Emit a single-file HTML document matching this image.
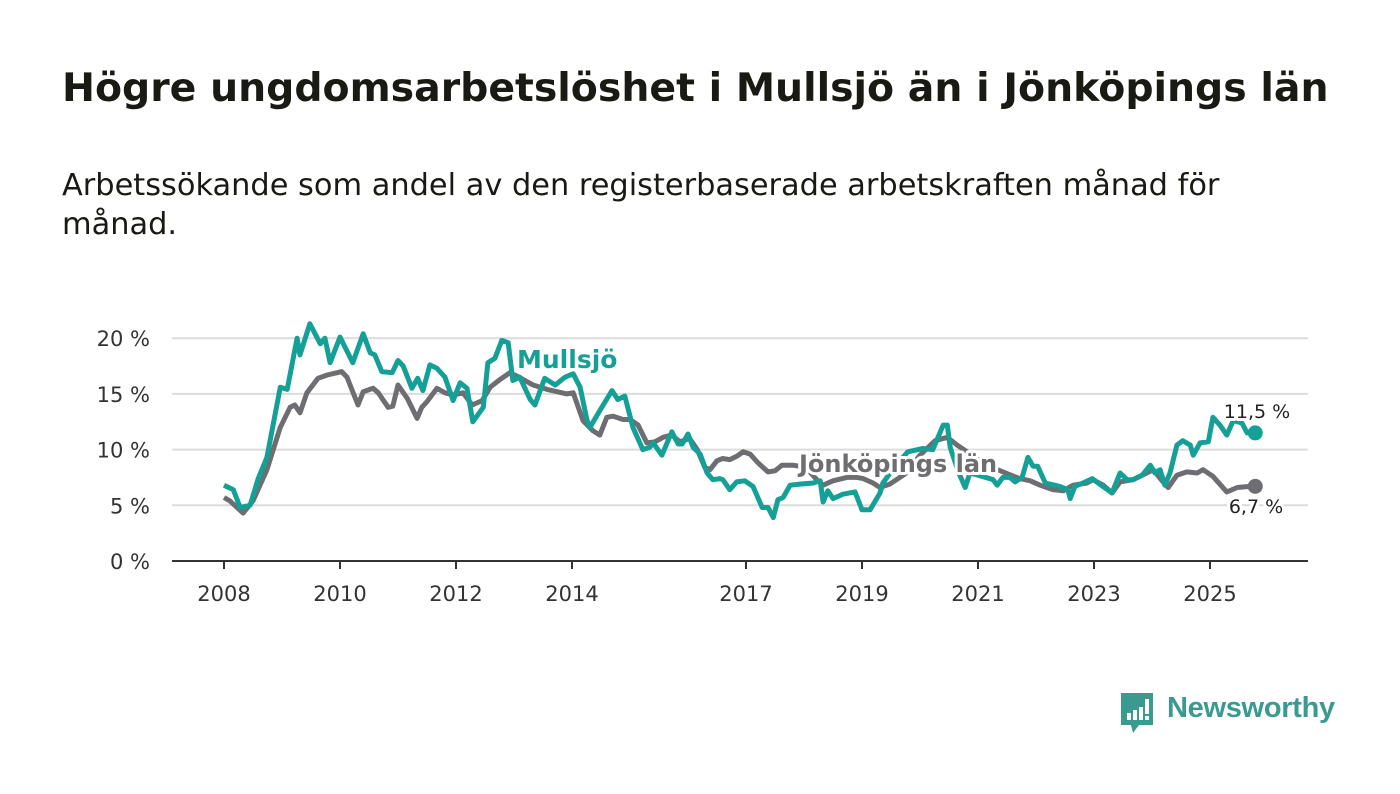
<!DOCTYPE html>
<html><head><meta charset="utf-8">
<style>
html,body{margin:0;padding:0;background:#fff;}
body{width:1400px;height:794px;position:relative;overflow:hidden;font-family:"DejaVu Sans","Liberation Sans",sans-serif;color:#1a1a14;}
#title{position:absolute;left:62px;top:65px;font-size:39.4px;font-weight:bold;margin:0;letter-spacing:0px;white-space:nowrap;}
#subtitle{position:absolute;left:62px;top:166px;font-size:30.4px;line-height:39px;margin:0;width:1240px;}
svg{position:absolute;left:0;top:0;}
</style></head>
<body>
<h1 id="title">Högre ungdomsarbetslöshet i Mullsjö än i Jönköpings län</h1>
<p id="subtitle">Arbetssökande som andel av den registerbaserade arbetskraften månad för månad.</p>
<svg id="chart" width="1400" height="794"></svg>
<div style="position:absolute;left:1119px;top:691px;width:220px;height:44px;">
<svg width="36" height="44" style="position:absolute;left:0;top:0">
<path d="M2 2 H34 V34 H20 L14 42 L12 34 H2 Z" fill="#3a9a90"/>
<rect x="8" y="22" width="4" height="7" fill="#fff"/><rect x="14" y="19" width="4" height="10" fill="#fff"/><rect x="20" y="16" width="4" height="13" fill="#fff"/><rect x="26" y="8" width="4" height="15" fill="#fff"/><rect x="26" y="25" width="4" height="4" fill="#fff"/>
</svg>
<span style="position:absolute;left:48px;top:1px;font-family:'Liberation Sans',sans-serif;font-size:29px;font-weight:bold;color:#3a9a90;letter-spacing:-0.3px;">Newsworthy</span>
</div>
<script>
const yTicks=[0,5,10,15,20];
const xTickYears=[2008,2010,2012,2014,2017,2019,2021,2023,2025];
const mullsjoYears=[2008.0,2008.16,2008.28,2008.45,2008.59,2008.74,2008.97,2009.09,2009.26,2009.31,2009.48,2009.66,2009.74,2009.83,2010.0,2010.22,2010.40,2010.52,2010.60,2010.72,2010.90,2011.0,2011.09,2011.24,2011.34,2011.43,2011.55,2011.67,2011.81,2011.95,2012.07,2012.19,2012.29,2012.47,2012.55,2012.67,2012.79,2012.90,2012.98,2013.10,2013.28,2013.36,2013.53,2013.71,2013.88,2014.02,2014.14,2014.26,2014.31,2014.48,2014.69,2014.79,2014.91,2015.05,2015.22,2015.34,2015.40,2015.55,2015.72,2015.83,2015.90,2016.0,2016.09,2016.21,2016.33,2016.43,2016.55,2016.60,2016.72,2016.84,2016.98,2017.12,2017.28,2017.38,2017.47,2017.55,2017.64,2017.76,2017.93,2018.16,2018.28,2018.33,2018.41,2018.50,2018.67,2018.88,2019.0,2019.14,2019.31,2019.36,2019.57,2019.79,2020.05,2020.22,2020.40,2020.47,2020.52,2020.66,2020.78,2020.86,2021.07,2021.26,2021.33,2021.43,2021.55,2021.64,2021.76,2021.86,2021.95,2022.03,2022.16,2022.41,2022.55,2022.59,2022.67,2022.81,2022.97,2023.07,2023.31,2023.45,2023.57,2023.67,2023.83,2023.97,2024.05,2024.14,2024.22,2024.31,2024.43,2024.53,2024.66,2024.71,2024.83,2024.97,2025.05,2025.17,2025.29,2025.40,2025.55,2025.64,2025.78];
const mullsjoValues=[6.8,6.4,4.8,5.0,7.4,9.3,15.6,15.4,20.0,18.5,21.3,19.5,20.0,17.8,20.1,17.8,20.4,18.7,18.5,17.0,16.9,18.0,17.5,15.5,16.4,15.3,17.6,17.3,16.5,14.4,16.0,15.5,12.5,13.8,17.8,18.2,19.8,19.6,16.2,16.5,14.5,14.0,16.4,15.8,16.5,16.8,15.6,12.6,12.0,13.5,15.3,14.5,14.8,12.0,10.0,10.2,10.6,9.5,11.6,10.5,10.5,11.4,10.2,9.6,7.9,7.3,7.4,7.3,6.4,7.1,7.2,6.7,4.8,4.8,3.9,5.5,5.7,6.8,6.9,7.0,7.2,5.3,6.3,5.6,6.0,6.2,4.6,4.6,6.1,7.0,8.5,9.8,10.1,10.0,12.2,12.2,10.2,8.0,6.6,7.9,7.6,7.3,6.8,7.5,7.5,7.1,7.5,9.3,8.5,8.5,7.0,6.7,6.4,5.6,6.7,7.0,7.4,7.0,6.1,7.9,7.3,7.3,7.7,8.6,7.9,8.2,6.8,7.9,10.4,10.8,10.4,9.5,10.6,10.7,12.9,12.2,11.3,12.6,12.4,11.5,11.5];
const lanYears=[2008.0,2008.10,2008.33,2008.50,2008.74,2008.97,2009.14,2009.22,2009.31,2009.43,2009.62,2009.78,2009.95,2010.03,2010.12,2010.31,2010.40,2010.57,2010.66,2010.83,2010.91,2011.0,2011.16,2011.33,2011.41,2011.50,2011.67,2011.81,2011.95,2012.12,2012.28,2012.45,2012.59,2012.76,2012.93,2013.05,2013.33,2013.57,2013.91,2014.02,2014.19,2014.36,2014.48,2014.60,2014.71,2014.88,2015.0,2015.14,2015.29,2015.43,2015.57,2015.72,2015.86,2016.03,2016.16,2016.29,2016.38,2016.50,2016.60,2016.72,2016.84,2016.95,2017.07,2017.21,2017.38,2017.50,2017.62,2017.81,2017.93,2018.10,2018.22,2018.33,2018.50,2018.74,2018.91,2019.02,2019.19,2019.31,2019.48,2019.74,2020.0,2020.26,2020.47,2020.64,2020.81,2021.03,2021.29,2021.52,2021.72,2021.90,2022.07,2022.29,2022.47,2022.64,2022.88,2022.98,2023.16,2023.31,2023.45,2023.67,2023.83,2024.02,2024.19,2024.28,2024.43,2024.60,2024.78,2024.88,2025.05,2025.29,2025.47,2025.69,2025.78];
const lanValues=[5.7,5.4,4.3,5.4,8.2,12.0,13.8,14.0,13.3,15.1,16.4,16.7,16.9,17.0,16.5,14.0,15.2,15.5,15.1,13.8,13.9,15.8,14.6,12.8,13.8,14.3,15.5,15.1,14.9,15.1,14.0,14.4,15.6,16.3,16.9,16.6,15.8,15.4,15.0,15.1,12.6,11.7,11.3,12.9,13.0,12.7,12.7,12.2,10.6,10.7,11.1,11.3,10.7,11.0,10.0,8.4,8.2,9.0,9.2,9.1,9.4,9.8,9.6,8.8,8.0,8.1,8.6,8.6,8.5,8.0,7.3,6.8,7.2,7.5,7.5,7.4,7.0,6.6,6.9,7.8,9.5,10.8,11.1,10.4,9.8,9.0,8.3,7.8,7.4,7.2,6.8,6.4,6.3,6.8,7.0,7.3,6.8,6.1,7.1,7.3,7.7,8.2,7.1,6.6,7.7,8.0,7.9,8.2,7.6,6.2,6.6,6.7,6.7];

const NS='http://www.w3.org/2000/svg';
const svg=document.getElementById('chart');
const FONT='DejaVu Sans, Liberation Sans, sans-serif';
const X=y=>224+(y-2008)*58;
const Y=v=>561-v*11.14;
function mk(tag,attrs,parent){const e=document.createElementNS(NS,tag);for(const k in attrs)e.setAttribute(k,attrs[k]);(parent||svg).appendChild(e);return e;}

yTicks.forEach(t=>{
  if(t>0){const g=mk('line',{x1:172,x2:1308,y1:Y(t),y2:Y(t),stroke:'#dcdcdc','stroke-width':2});
  
  }
  const l=mk('text',{x:150,y:Y(t)+8,'text-anchor':'end','font-size':21,fill:'#333','font-family':FONT});
  l.textContent=t+' %';
  
  
});
const ax=mk('line',{x1:172,x2:1308,y1:561,y2:561,stroke:'#333','stroke-width':2});


xTickYears.forEach(yr=>{
  const tk=mk('line',{x1:X(yr),x2:X(yr),y1:561,y2:569,stroke:'#333','stroke-width':2});
  
  
  const l=mk('text',{x:X(yr),y:601,'text-anchor':'middle','font-size':21,fill:'#333','font-family':FONT});
  l.textContent=yr;
  
  
});
function path(xs,vs){return xs.map((x,i)=>(i?'L':'M')+X(x).toFixed(1)+' '+Y(vs[i]).toFixed(1)).join(' ');}
const gl=mk('path',{d:path(lanYears,lanValues),fill:'none',stroke:'#6e6d72','stroke-width':5,'stroke-linejoin':'round'});


const tl=mk('path',{d:path(mullsjoYears,mullsjoValues),fill:'none',stroke:'#14a096','stroke-width':5,'stroke-linejoin':'round'});


const lx=lanYears[lanYears.length-1], lv=lanValues[lanValues.length-1];
const mx=mullsjoYears[mullsjoYears.length-1], mv=mullsjoValues[mullsjoValues.length-1];
const d1=mk('circle',{cx:X(lx),cy:Y(lv),r:7.5,fill:'#6e6d72'});


const d2=mk('circle',{cx:X(mx),cy:Y(mv),r:7.5,fill:'#14a096'});


function lbl(txt,x,y,anchor,size,fill,weight,name){
  const t=mk('text',{x:x,y:y,'text-anchor':anchor,'font-size':size,fill:fill,'font-weight':weight,'font-family':FONT,stroke:'#fff','stroke-width':6,'paint-order':'stroke','stroke-linejoin':'round'});
  t.textContent=txt;
  
  
}
lbl((mv.toFixed(1)).replace('.',',')+' %',1257,418,'middle',19,'#222','normal','mullsjo-end-value');
lbl((lv.toFixed(1)).replace('.',',')+' %',1256,513,'middle',19,'#222','normal','jonkopings-lan-end-value');
lbl('Mullsjö',517,368,'start',25,'#14a096','bold','mullsjo-series-label');
lbl('Jönköpings län',799,472,'start',24,'#6e6d72','bold','jonkopings-lan-series-label');
</script>
</body></html>
